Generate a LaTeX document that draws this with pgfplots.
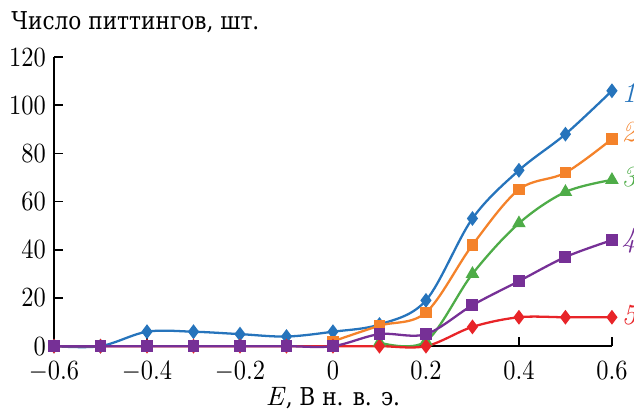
\documentclass[border=0pt]{standalone}
\usepackage{fontspec}
\newfontfamily\cyr{DejaVu Serif}[FakeStretch=0.88]
\usepackage{pgfplots}
\pgfplotsset{compat=1.18}

\definecolor{c1}{RGB}{38,116,188}
\definecolor{c2}{RGB}{244,130,42}
\definecolor{c3}{RGB}{78,172,72}
\definecolor{c4}{RGB}{118,48,150}
\definecolor{c5}{RGB}{232,36,40}

\begin{document}
\fontsize{10.5}{12}\selectfont
\begin{tikzpicture}
\begin{axis}[
    scale only axis,
    width=220pt, height=114pt,
    axis lines=left,
    axis line style={-, black, line width=0.6pt},
    xmin=-0.6, xmax=0.6,
    ymin=0, ymax=120,
    xtick={-0.6,-0.4,-0.2,0,0.2,0.4,0.6},
    ytick={0,20,40,60,80,100,120},
    tick label style={font=\fontsize{10.5}{12}\selectfont, xscale=0.88},
    xticklabel style={yshift=-2.5pt},
    tick align=inside,
    tick style={black, line width=0.6pt},
    major tick length=3.5pt,
    xlabel={\textit{E}{\cyr\fontsize{9.7}{11}\selectfont , В н. в. э.}},
    xlabel style={yshift=5pt},
    clip=false,
    every axis plot/.append style={line width=0.9pt, smooth, tension=0.55},
]
% 1
\addplot[c1, mark=diamond*, mark size=2.2pt] coordinates {
  (-0.6,0) (-0.5,0) (-0.4,6) (-0.3,6) (-0.2,5) (-0.1,4) (0,6) (0.1,9)
  (0.2,19) (0.3,53) (0.4,73) (0.5,88) (0.6,106)
};
% 2
\addplot[c2, mark=square*, mark size=1.8pt] coordinates {
  (0,2) (0.1,8.5) (0.2,14) (0.3,42) (0.4,65) (0.5,72) (0.6,86)
};
% 3
\addplot[c3, mark=triangle*, mark size=2.2pt] coordinates {
  (0.1,1.5) (0.2,2) (0.3,30) (0.4,51) (0.5,64) (0.6,69)
};
% 5
\addplot[c5, mark=diamond*, mark size=2.2pt] coordinates {
  (-0.6,0) (-0.5,0) (-0.4,0) (-0.3,0) (-0.2,0) (-0.1,0) (0,0) (0.1,0)
  (0.2,0) (0.3,8) (0.4,12) (0.5,12) (0.6,12)
};
% 4
\addplot[c4, mark=square*, mark size=1.9pt] coordinates {
  (-0.6,0) (-0.5,0) (-0.4,0) (-0.3,0) (-0.2,0) (-0.1,0) (0,0) (0.1,5)
  (0.2,5) (0.3,17) (0.4,27) (0.5,37) (0.6,44)
};

\node[anchor=base west, inner sep=0pt, font=\cyr\fontsize{9.7}{11}\selectfont]
  at (rel axis cs:0,1) [xshift=-17pt, yshift=11pt] {Число питтингов, шт.};

\node[anchor=west, inner sep=0pt, text=c1, font=\itshape\fontsize{11.5}{12}\selectfont] at (axis cs:0.62,105) {1};
\node[anchor=west, inner sep=0pt, text=c2, font=\itshape\fontsize{11.5}{12}\selectfont] at (axis cs:0.62,89) {2};
\node[anchor=west, inner sep=0pt, text=c3, font=\itshape\fontsize{11.5}{12}\selectfont] at (axis cs:0.62,70) {3};
\node[anchor=west, inner sep=0pt, text=c4, font=\itshape\fontsize{11.5}{12}\selectfont] at (axis cs:0.62,44) {4};
\node[anchor=west, inner sep=0pt, text=c5, font=\itshape\fontsize{11.5}{12}\selectfont] at (axis cs:0.62,13) {5};
\end{axis}
\pgfresetboundingbox
\path[use as bounding box]
  ([xshift=-21.3pt, yshift=-27.2pt]current axis.south west)
  rectangle ([xshift=8.7pt, yshift=22.5pt]current axis.north east);
\end{tikzpicture}
\end{document}
